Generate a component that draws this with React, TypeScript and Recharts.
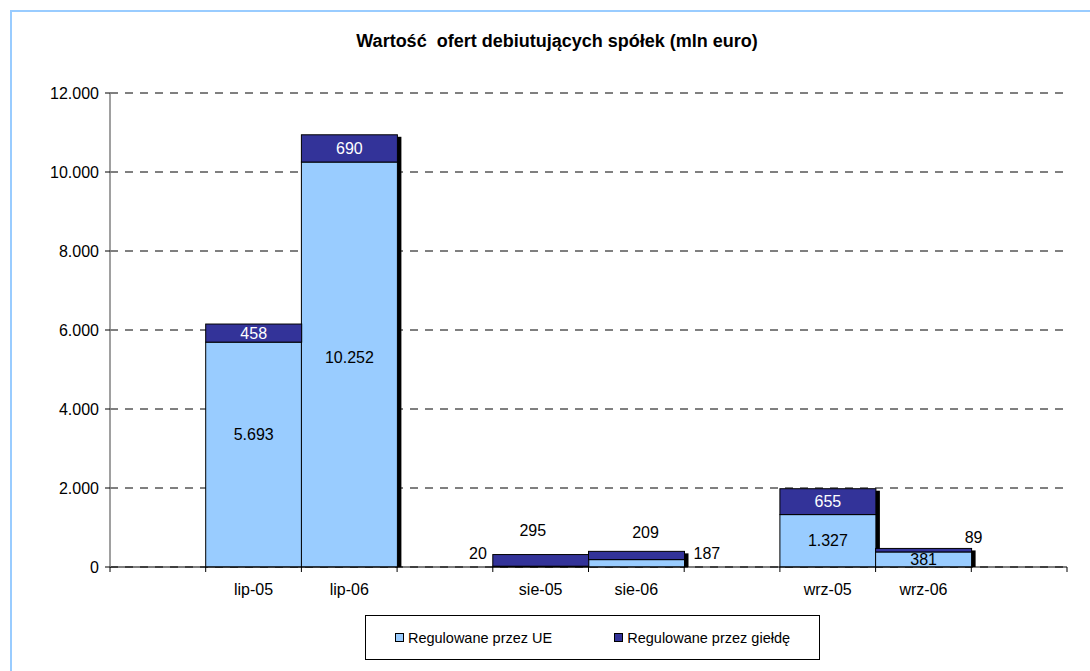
import React from "react";
import { BarChart, Bar, XAxis, YAxis, CartesianGrid, Legend, LabelList } from "recharts";

// blank categories make the gaps between month groups
const categories = ["", "lip-05", "lip-06", "", "sie-05", "sie-06", "", "wrz-05", "wrz-06", ""];
const regulowaneUE = [null, 5693, 10252, null, 20, 187, null, 1327, 381, null];
const regulowaneGielda = [null, 458, 690, null, 295, 209, null, 655, 89, null];
const seriesNames = ["Regulowane przez UE", "Regulowane przez giełdę"];
const yTicks = [0, 2000, 4000, 6000, 8000, 10000, 12000];

const W = 1090;
const H = 671;
const M = { top: 93, right: 23, bottom: 74, left: 50 };
const Y_AXIS_W = 60;
const X_AXIS_H = 30;
const Y_MAX = 12000;
const PLOT_W = W - M.left - Y_AXIS_W - M.right;
const PLOT_H = H - M.top - M.bottom - X_AXIS_H;
const BAND = PLOT_W / categories.length;

const LIGHT = "#99CCFF";
const DARK = "#333399";
const FONT = "'Liberation Sans', Arial, sans-serif";

// label nudges, per category
const labelTweak: Record<string, { ueDy?: number; ueSide?: "left" | "right"; gDx?: number; gDy?: number }> = {
  "lip-05": { ueDy: -20 },
  "lip-06": { ueDy: -7 },
  "sie-05": { ueSide: "left", gDx: -8, gDy: -24 },
  "sie-06": { ueSide: "right", gDx: 9, gDy: -19 },
  "wrz-06": { gDx: 50, gDy: -11 },
};

const data = categories.map((cat, i) => ({
  cat,
  ue: regulowaneUE[i],
  gielda: regulowaneGielda[i],
}));

const fmt = (v: number) => String(v).replace(/\B(?=(\d{3})+(?!\d))/g, ".");

// bottom segment also paints the drop shadow of the whole stack
function UEShape(props: any) {
  const { x, y, width, height, payload } = props;
  if (payload.ue == null) return <g />;
  const base = y + height;
  const total = (payload.ue || 0) + (payload.gielda || 0);
  const top = base - (total * PLOT_H) / Y_MAX;
  return (
    <g>
      <rect x={x + 4} y={top + 2} width={width} height={base - top - 2} fill="#000" />
      <rect x={x} y={y} width={width} height={height} fill={LIGHT} stroke="#000" strokeWidth={1} />
    </g>
  );
}

function GieldaShape(props: any) {
  const { x, y, width, height, payload } = props;
  if (payload.gielda == null) return <g />;
  return <rect x={x} y={y} width={width} height={height} fill={DARK} stroke="#000" strokeWidth={1} />;
}

function UELabel(props: any) {
  const { x, y, width, height, value, index } = props;
  if (value == null) return null;
  const t = labelTweak[categories[index]] || {};
  let tx = x + width / 2;
  let ty = y + height / 2 + (t.ueDy || 0);
  let anchor: "middle" | "start" | "end" = "middle";
  if (t.ueSide === "left") {
    tx = x - 6;
    ty = y + height - 14;
    anchor = "end";
  } else if (t.ueSide === "right") {
    tx = x + width + 9;
    ty = y + height - 14;
    anchor = "start";
  }
  return (
    <text x={tx} y={ty} textAnchor={anchor} dominantBaseline="central" fontSize={16} fontFamily={FONT} fill="#000">
      {fmt(value)}
    </text>
  );
}

function GieldaLabel(props: any) {
  const { x, y, width, height, value, index } = props;
  if (value == null) return null;
  const t = labelTweak[categories[index]] || {};
  const inside = height >= 16;
  const tx = x + width / 2 + (inside ? 0 : t.gDx || 0);
  const ty = inside ? y + height / 2 : y + (t.gDy || -18);
  return (
    <text x={tx} y={ty} textAnchor="middle" dominantBaseline="central" fontSize={16} fontFamily={FONT} fill={inside ? "#fff" : "#000"}>
      {fmt(value)}
    </text>
  );
}

function XTick(props: any) {
  const { x, y, payload, index } = props;
  const half = BAND / 2;
  return (
    <g>
      <line x1={x - half} x2={x - half} y1={y - 5} y2={y} stroke="#000" />
      {index === categories.length - 1 && <line x1={x + half} x2={x + half} y1={y - 5} y2={y} stroke="#000" />}
      <text x={x} y={y + 23} textAnchor="middle" fontSize={16} fontFamily={FONT} fill="#000">
        {payload.value}
      </text>
    </g>
  );
}

function LegendBox() {
  const fills = [LIGHT, DARK];
  return (
    <div
      style={{
        width: 455,
        height: 45,
        boxSizing: "border-box",
        border: "1px solid #000",
        display: "flex",
        alignItems: "center",
        justifyContent: "center",
        gap: 62,
        fontFamily: FONT,
        fontSize: 14.5,
        color: "#000",
        background: "#fff",
      }}
    >
      {seriesNames.map((n, i) => (
        <div key={n} style={{ display: "flex", alignItems: "center" }}>
          <span style={{ display: "inline-block", width: 7, height: 7, background: fills[i], border: "1px solid #000", marginRight: 4 }} />
          <span>{n}</span>
        </div>
      ))}
    </div>
  );
}

export default function App() {
  return (
    <div style={{ position: "absolute", left: 0, top: 0, width: W, height: H, overflow: "hidden", background: "#fff" }}>
      <div
        style={{
          position: "absolute",
          left: 10,
          top: 10,
          width: 1200,
          height: 800,
          border: "2px solid #99CCFF",
        }}
      />
      <div
        style={{
          position: "absolute",
          left: 347,
          width: 420,
          top: 31,
          textAlign: "center",
          whiteSpace: "pre",
          fontFamily: FONT,
          fontWeight: "bold",
          fontSize: 18,
          color: "#000",
        }}
      >
        {"Wartość  ofert debiutujących spółek (mln euro)"}
      </div>
      <div style={{ position: "absolute", left: 0, top: 0 }}>
        <BarChart width={W} height={H} data={data} margin={M} barCategoryGap={0}>
          <CartesianGrid vertical={false} stroke="#000" strokeDasharray="8 7" />
          <XAxis
            dataKey="cat"
            height={X_AXIS_H}
            interval={0}
            tickSize={5}
            tickMargin={0}
            tickLine={false}
            stroke="#000"
            tick={<XTick />}
            allowDuplicatedCategory
          />
          <YAxis
            width={Y_AXIS_W}
            domain={[0, Y_MAX]}
            ticks={yTicks}
            tickFormatter={fmt}
            tickSize={5}
            tickMargin={6}
            stroke="#808080"
            strokeWidth={1.5}
            tickLine={{ stroke: "#000", strokeWidth: 1 }}
            tick={{ fill: "#000", fontSize: 16, fontFamily: FONT }}
          />
          <Legend
            layout="horizontal"
            verticalAlign="middle"
            align="center"
            wrapperStyle={{ left: 365, top: 615, width: 455, height: 45 }}
            content={<LegendBox />}
          />
          <Bar dataKey="ue" name={seriesNames[0]} stackId="a" fill={LIGHT} shape={<UEShape />} isAnimationActive={false}>
            <LabelList dataKey="ue" content={<UELabel />} />
          </Bar>
          <Bar dataKey="gielda" name={seriesNames[1]} stackId="a" fill={DARK} shape={<GieldaShape />} isAnimationActive={false}>
            <LabelList dataKey="gielda" content={<GieldaLabel />} />
          </Bar>
        </BarChart>
      </div>
    </div>
  );
}
